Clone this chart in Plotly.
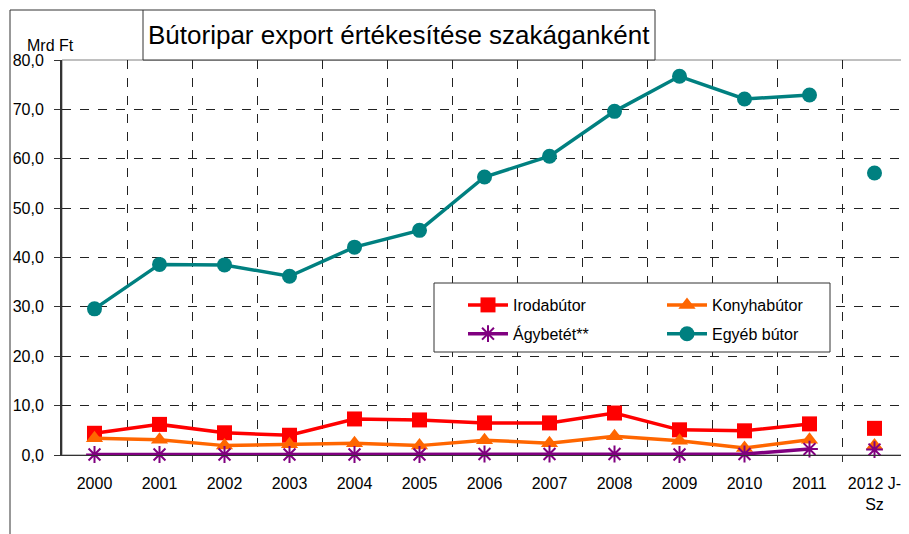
import plotly.graph_objects as go

categories = ["2000", "2001", "2002", "2003", "2004", "2005", "2006", "2007",
              "2008", "2009", "2010", "2011", "2012 J-<br>Sz"]
irodabutor = [4.4, 6.2, 4.5, 4.0, 7.3, 7.1, 6.5, 6.5, 8.5, 5.1, 4.9, 6.3, 5.4]
konyhabutor = [3.4, 3.1, 1.9, 2.2, 2.4, 1.9, 3.0, 2.4, 3.8, 2.9, 1.4, 3.1, 1.9]
agybetet = [0.1, 0.1, 0.1, 0.1, 0.1, 0.1, 0.2, 0.2, 0.2, 0.1, 0.2, 1.2, 1.1]
egyeb = [29.6, 38.6, 38.5, 36.2, 42.1, 45.5, 56.3, 60.5, 69.6, 76.7, 72.1, 72.9, 57.1]

series = [
    ("Irodabútor", irodabutor, "#FF0000", "square", 15, "legend"),
    ("Konyhabútor", konyhabutor, "#FF6600", "triangle-up", 15, "legend2"),
    ("Ágybetét**", agybetet, "#800080", "asterisk", 14, "legend"),
    ("Egyéb bútor", egyeb, "#008080", "circle", 15, "legend2"),
]

n = len(categories)
xs = list(range(n))
font = "Liberation Sans, Arial, sans-serif"

# page has an 8px body margin; layout is specified in window pixels below
W, H = 901, 526
PL, PR, PT, PB = 62, 907, 60, 455  # plot area in window pixels


def px(X):
    return (X - PL) / (PR - PL)


def py(Y):
    return (PB - Y) / (PB - PT)


fig = go.Figure()
for name, vals, color, sym, size, leg in series:
    marker = dict(symbol=sym, size=size, color=color)
    if sym == "asterisk":
        marker["line"] = dict(color=color, width=2)
    fig.add_trace(go.Scatter(
        x=xs[:-1], y=vals[:-1], name=name, mode="lines+markers",
        legend=leg, legendgroup=name,
        line=dict(color=color, width=3.5), marker=marker, cliponaxis=False))
    fig.add_trace(go.Scatter(
        x=xs[-1:], y=vals[-1:], name=name, mode="markers", showlegend=False,
        legendgroup=name, marker=marker, cliponaxis=False))

fig.add_trace(go.Scatter(x=[0], y=[0], xaxis="x2", mode="markers",
                         marker=dict(opacity=0), showlegend=False, hoverinfo="skip"))

leg_common = dict(
    orientation="v", yanchor="top", xanchor="left",
    bgcolor="rgba(0,0,0,0)", borderwidth=0,
    font=dict(size=16, family=font, color="black"),
    traceorder="grouped", tracegroupgap=5, itemwidth=40,
)

fig.update_layout(
    width=W, height=H,
    margin=dict(l=PL - 8, r=W - (PR - 8), t=PT - 8, b=H - (PB - 8)),
    paper_bgcolor="white", plot_bgcolor="white",
    separators=", ",
    font=dict(family=font, size=16, color="black"),
    xaxis=dict(
        range=[-0.5, n - 0.5], tickmode="array", tickvals=xs, ticktext=categories,
        showgrid=False, ticks="outside", ticklen=6, tickcolor="rgba(0,0,0,0)",
        ticklabelstandoff=8,
        showline=True, linecolor="#333333", linewidth=1,
        tickfont=dict(size=16), zeroline=False,
    ),
    xaxis2=dict(
        overlaying="x", anchor="y", side="bottom",
        range=[-0.5, n - 0.5], tickmode="array",
        tickvals=[i + 0.5 for i in range(n - 1)],
        showticklabels=False, ticks="outside", ticklen=6, tickcolor="#333333",
        showgrid=True, gridcolor="#222222", griddash="dash", gridwidth=1,
        zeroline=False, showline=False,
    ),
    yaxis=dict(
        range=[0, 80], dtick=10, tick0=0, tickformat=".1f",
        showgrid=True, gridcolor="#222222", griddash="dash", gridwidth=1,
        ticks="outside", ticklen=6, tickcolor="#333333", ticklabelstandoff=7,
        showline=True, linecolor="#333333", linewidth=2,
        zeroline=False, tickfont=dict(size=16),
    ),
    legend=dict(leg_common, x=px(463), y=py(288)),
    legend2=dict(leg_common, x=px(662), y=py(288)),
    shapes=[
        dict(type="rect", xref="paper", yref="paper", x0=0, x1=1, y0=0, y1=1,
             line=dict(color="#808080", width=1), layer="below"),
        # outer chart frame (left and top edges)
        dict(type="line", xref="paper", yref="paper",
             x0=px(10), x1=px(10), y0=py(10), y1=py(560),
             line=dict(color="#333333", width=1)),
        dict(type="line", xref="paper", yref="paper",
             x0=px(10), x1=px(143), y0=py(10), y1=py(10),
             line=dict(color="#333333", width=1)),
        # title box
        dict(type="rect", xref="paper", yref="paper",
             x0=px(143), x1=px(655), y0=py(60), y1=py(10),
             line=dict(color="#333333", width=1), fillcolor="white"),
        # legend box
        dict(type="rect", xref="paper", yref="paper",
             x0=px(434), x1=px(830), y0=py(352), y1=py(283),
             line=dict(color="#333333", width=1), fillcolor="white", layer="above"),
    ],
    annotations=[
        dict(text="Bútoripar export értékesítése szakáganként",
             xref="paper", yref="paper", x=px(399), y=py(35),
             xanchor="center", yanchor="middle", showarrow=False,
             font=dict(size=26, family=font, color="black")),
        dict(text="Mrd Ft", xref="paper", yref="paper",
             x=px(76), y=py(45), xanchor="right", yanchor="middle",
             showarrow=False, font=dict(size=16, family=font)),
    ],
)

fig.write_html("out.html")
